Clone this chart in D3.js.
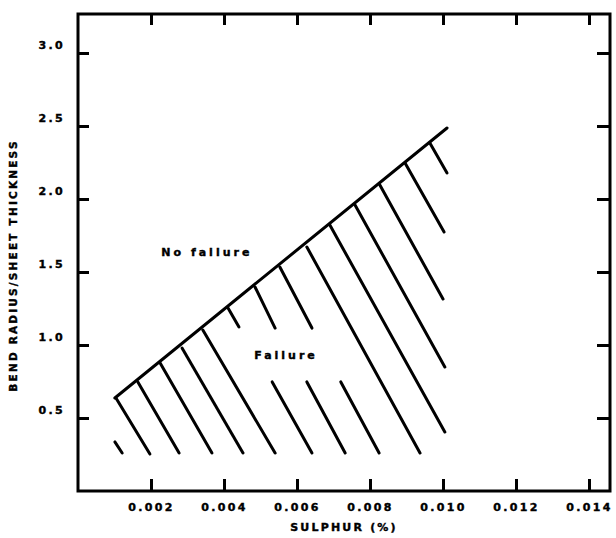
<!DOCTYPE html>
<html>
<head>
<meta charset="utf-8">
<script src="https://cdn.jsdelivr.net/npm/d3@7"></script>
<style>
  body { margin: 0; background: #fff; }
  text { font-family: "DejaVu Sans", sans-serif; font-weight: bold; fill: #000; stroke: #000; stroke-width: 0.4px; }
</style>
</head>
<body>
<div id="chart"></div>
<script>
// tick values
const xTicks = [0.002, 0.004, 0.006, 0.008, 0.010, 0.012, 0.014];
const yTicks = [0.5, 1.0, 1.5, 2.0, 2.5, 3.0];

// failure boundary (sulphur %, bend radius / thickness)
const boundary = [[0.00101, 0.637], [0.01011, 2.486]];

// hatch strokes below the boundary: [x1, y1, x2, y2]
const hatches = [
  [0.00104, 0.637, 0.00197, 0.253],
  [0.00164, 0.747, 0.00277, 0.260],
  [0.00225, 0.877, 0.00367, 0.260],
  [0.00285, 0.979, 0.00452, 0.260],
  [0.00342, 1.103, 0.00540, 0.260],
  [0.00411, 1.253, 0.00441, 1.123],
  [0.00532, 0.747, 0.00641, 0.260],
  [0.00485, 1.397, 0.00540, 1.116],
  [0.00627, 0.747, 0.00732, 0.260],
  [0.00553, 1.534, 0.00641, 1.116],
  [0.00720, 0.747, 0.00825, 0.260],
  [0.00627, 1.671, 0.00937, 0.260],
  [0.00690, 1.822, 0.01005, 0.404],
  [0.00759, 1.959, 0.01005, 0.849],
  [0.00827, 2.096, 0.01000, 1.315],
  [0.00896, 2.247, 0.01003, 1.774],
  [0.00964, 2.384, 0.01011, 2.178],
  [0.00101, 0.336, 0.00121, 0.260]
];

const regionLabels = [
  { text: "No failure", x: 0.00353, y: 1.637 },
  { text: "Failure", x: 0.00570, y: 0.932 }
];

const width = 616, height = 538;
const svg = d3.select('#chart').append('svg')
  .attr('width', width)
  .attr('height', height);

const x = d3.scaleLinear().domain([0, 0.014575]).range([78, 610]);
const y = d3.scaleLinear().domain([0, 3.267]).range([491, 14]);

// ticks on all four sides, pointing inward
const axBottom = svg.append('g')
  .attr('transform', `translate(0,${y(0)})`)
  .call(d3.axisBottom(x).tickValues(xTicks).tickSize(-12).tickPadding(12).tickFormat(d3.format('.3f')));
const axTop = svg.append('g')
  .attr('transform', `translate(0,${y.range()[1]})`)
  .call(d3.axisTop(x).tickValues(xTicks).tickSize(-11).tickFormat(''));
const axLeft = svg.append('g')
  .attr('transform', `translate(${x(0)},0)`)
  .call(d3.axisLeft(y).tickValues(yTicks).tickSize(-11).tickPadding(13).tickFormat(d3.format('.1f')));
const axRight = svg.append('g')
  .attr('transform', `translate(${x.range()[1]},0)`)
  .call(d3.axisRight(y).tickValues(yTicks).tickSize(-13).tickFormat(''));

[axBottom, axTop, axLeft, axRight].forEach(g => {
  g.select('.domain').remove();
  g.selectAll('.tick line').attr('stroke', '#000').attr('stroke-width', 3);
  g.selectAll('.tick text')
    .style('font-size', '11px')
    .style('letter-spacing', '2.3px')
    .attr('fill', '#000');
});
axLeft.selectAll('.tick text').attr('y', -8);

// frame
svg.append('rect')
  .attr('x', x(0))
  .attr('y', y.range()[1])
  .attr('width', x.range()[1] - x(0))
  .attr('height', y(0) - y.range()[1])
  .attr('fill', 'none')
  .attr('stroke', '#000')
  .attr('stroke-width', 3);

// boundary line
svg.append('path')
  .datum(boundary)
  .attr('d', d3.line().x(d => x(d[0])).y(d => y(d[1])))
  .attr('fill', 'none')
  .attr('stroke', '#000')
  .attr('stroke-width', 3)
  .attr('stroke-linecap', 'round');

// hatching
svg.selectAll('.hatch')
  .data(hatches)
  .enter().append('line')
  .attr('class', 'hatch')
  .attr('x1', d => x(d[0]))
  .attr('y1', d => y(d[1]))
  .attr('x2', d => x(d[2]))
  .attr('y2', d => y(d[3]))
  .attr('stroke', '#000')
  .attr('stroke-width', 3)
  .attr('stroke-linecap', 'round');

svg.selectAll('.region')
  .data(regionLabels)
  .enter().append('text')
  .attr('class', 'region')
  .attr('x', d => x(d.x))
  .attr('y', d => y(d.y))
  .attr('dy', '0.35em')
  .attr('text-anchor', 'middle')
  .style('font-size', '11px')
  .style('letter-spacing', '3px')
  .text(d => d.text);

// axis titles
svg.append('text')
  .attr('x', (x.range()[0] + x.range()[1]) / 2)
  .attr('y', 531)
  .attr('text-anchor', 'middle')
  .style('font-size', '11px')
  .style('letter-spacing', '2.2px')
  .text('SULPHUR (%)');

svg.append('text')
  .attr('transform', `translate(17,${(y.range()[0] + y.range()[1]) / 2 + 13}) rotate(-90)`)
  .attr('text-anchor', 'middle')
  .style('font-size', '10.5px')
  .style('letter-spacing', '2.2px')
  .text('BEND RADIUS/SHEET THICKNESS');
</script>
</body>
</html>
